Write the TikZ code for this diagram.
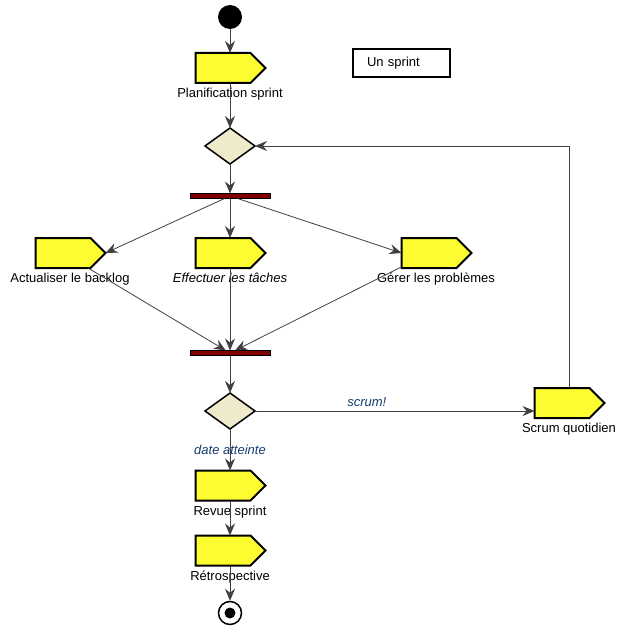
\documentclass[tikz,border=0pt]{standalone}
\usepackage{fontspec}
\setmainfont{Liberation Sans}
\usetikzlibrary{shapes.symbols,shapes.geometric,arrows.meta}
\definecolor{actfill}{RGB}{252,252,48}
\definecolor{decfill}{RGB}{240,234,204}
\definecolor{barfill}{RGB}{128,0,0}
\definecolor{guardcol}{RGB}{20,60,110}
\definecolor{flowcol}{RGB}{64,64,64}
\begin{document}
\begin{tikzpicture}[x=1pt,y=-1pt,>={Stealth[length=12pt,width=10pt,inset=4pt]},
  font=\fontsize{13}{15}\selectfont,
  action/.style={signal,signal to=east,draw=black,line width=2pt,fill=actfill,
    minimum width=70pt,minimum height=30pt,inner sep=0pt,outer sep=0pt,
    label={[label distance=4pt,inner sep=1pt,xshift=7pt]below:#1}},
  decision/.style={diamond,draw=black,line width=1.5pt,fill=decfill,
    minimum width=50pt,minimum height=36pt,inner sep=0pt,outer sep=0pt},
  syncbar/.style={rectangle,draw=black,line width=1pt,fill=barfill,
    minimum width=80pt,minimum height=5pt,inner sep=0pt,outer sep=0pt},
  flow/.style={->,draw=flowcol,line width=0.8pt},
  guard/.style={text=guardcol,font=\fontsize{13}{15}\selectfont\itshape}]
\useasboundingbox (0,0) rectangle (626,631);
\node[circle,fill=black,minimum size=24pt,inner sep=0pt] (start) at (230,17) {};
\node[action={Planification sprint}] (plan) at (223,68) {};
\node[draw=black,line width=1.5pt,minimum width=97pt,minimum height=28pt,
  text width=69pt,inner xsep=14pt,align=left] (note) at (401.5,63) {Un sprint};
\node[decision] (d1) at (230,146) {};
\node[syncbar] (fork) at (230,196) {};
\node[action={Actualiser le backlog}] (act) at (63,253) {};
\node[action={\itshape Effectuer les tâches}] (eff) at (223,253) {};
\node[action={Gérer les problèmes}] (ger) at (429,253) {};
\node[syncbar] (join) at (230,353) {};
\node[decision] (d2) at (230,411) {};
\node[action={Scrum quotidien}] (scrum) at (562,403) {};
\node[action={Revue sprint}] (revue) at (223,485.5) {};
\node[action={Rétrospective}] (retro) at (223,550.5) {};
\node[circle,draw=black,line width=1.5pt,minimum size=23pt,inner sep=0pt] (stop) at (230,613) {};
\node[circle,fill=black,minimum size=11pt,inner sep=0pt] (stopdot) at (stop) {};

\draw[flow](start)--(start |- plan.north);
\draw[flow](plan.south -| d1)--(d1);
\draw[flow](d1)--(fork);
\draw[flow](fork)--(act.east);
\draw[flow](fork)--(fork |- eff.north);
\draw[flow](fork)--(ger.west);
\draw[flow](act)--(join);
\draw[flow](eff.south -| join)--(join);
\draw[flow](ger)--(join);
\draw[flow](join)--(d2);
\draw[flow](d2.east)--node[guard,above=1pt,pos=.4]{scrum!}(d2.east -| scrum.west);
\draw[flow]([xshift=7pt]scrum.north)|-(d1.east);
\draw[flow](d2)--node[guard]{date atteinte}(d2 |- revue.north);
\draw[flow](revue.south -| d2)--(d2 |- retro.north);
\draw[flow](retro.south -| d2)--(stop);
\end{tikzpicture}
\end{document}
